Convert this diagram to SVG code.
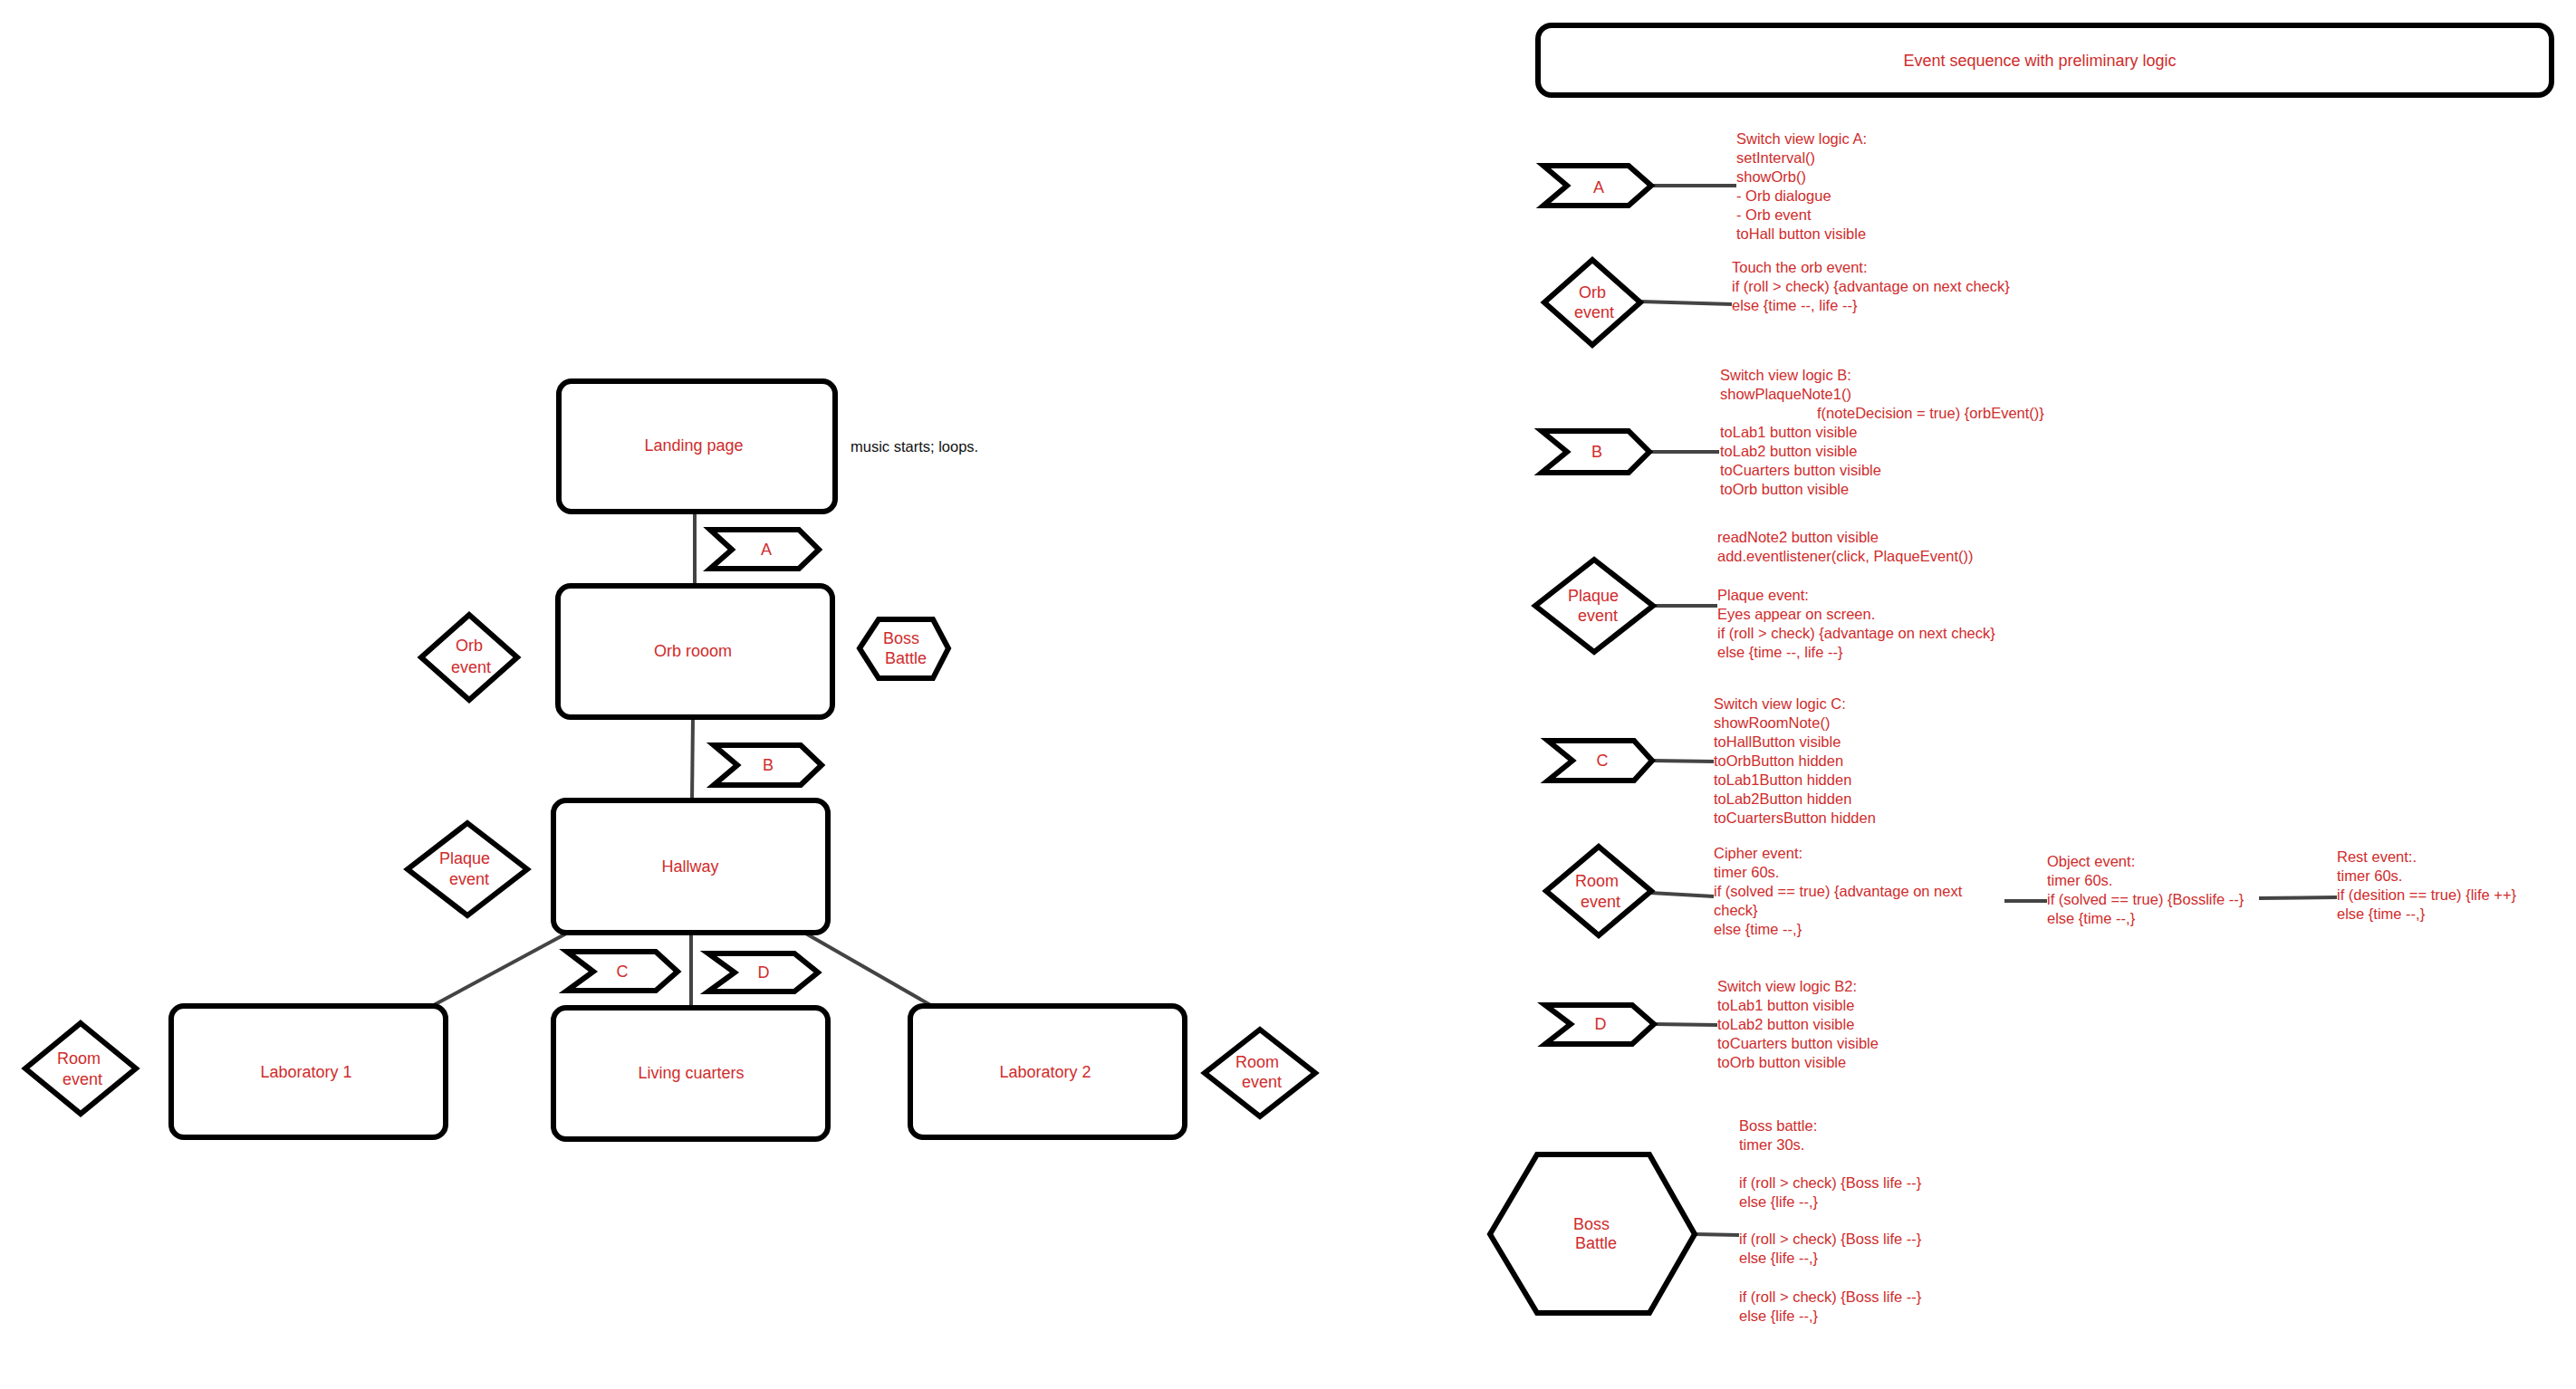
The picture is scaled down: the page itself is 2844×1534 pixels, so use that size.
<svg xmlns="http://www.w3.org/2000/svg" width="2844" height="1534" viewBox="0 0 2844 1534">
  <style>
    .shape { fill: #ffffff; stroke: #000000; stroke-width: 6; stroke-linejoin: miter; }
    .box { fill: #ffffff; stroke: #000000; stroke-width: 6; }
    .link { fill: none; stroke: #444444; stroke-width: 4; }
    .lbl { font-family: "Liberation Sans", Arial, sans-serif; font-size: 18px; fill: #d02c2c; text-anchor: middle; }
    .note { font-family: "Liberation Sans", Arial, sans-serif; font-size: 16.5px; fill: #d02c2c; }
    .plain { font-family: "Liberation Sans", Arial, sans-serif; font-size: 16.5px; fill: #111111; }
  </style>
  <rect width="2844" height="1534" fill="#ffffff"/>

  <!-- connectors -->
  <g id="connectors">
    <line class="link" x1="767" y1="565" x2="767" y2="647"/>
    <line class="link" x1="765" y1="792" x2="764" y2="884"/>
    <line class="link" x1="627" y1="1030" x2="477" y2="1111"/>
    <line class="link" x1="763" y1="1030" x2="763" y2="1113"/>
    <line class="link" x1="888" y1="1030" x2="1029" y2="1111"/>
    <line class="link" x1="1823" y1="205" x2="1917" y2="205"/>
    <line class="link" x1="1811" y1="333" x2="1912" y2="336"/>
    <line class="link" x1="1821" y1="499" x2="1898" y2="499"/>
    <line class="link" x1="1826" y1="669" x2="1896" y2="669"/>
    <line class="link" x1="1824" y1="840" x2="1892" y2="841"/>
    <line class="link" x1="1822" y1="986" x2="1892" y2="990"/>
    <line class="link" x1="2213" y1="995" x2="2260" y2="995"/>
    <line class="link" x1="2494" y1="992" x2="2580" y2="991"/>
    <line class="link" x1="1826" y1="1131" x2="1896" y2="1132"/>
    <line class="link" x1="1871" y1="1363" x2="1920" y2="1364"/>
  </g>

  <!-- room flow -->
  <g id="landing-page">
    <rect class="box" x="617" y="421" width="305" height="144" rx="14"/>
    <text class="lbl" x="766" y="498">Landing page</text>
  </g>
  <g id="music-note">
    <text class="plain" x="939" y="499">music starts; loops.</text>
  </g>
  <g id="switch-a">
    <polygon class="shape" points="784,585 882,585 904,607 882,628 784,628 808,607"/>
    <text class="lbl" x="846" y="613">A</text>
  </g>
  <g id="orb-room">
    <rect class="box" x="616" y="647" width="303" height="145" rx="14"/>
    <text class="lbl" x="765" y="725">Orb rooom</text>
  </g>
  <g id="orb-event">
    <polygon class="shape" points="518,679 571,726 518,773 465,726"/>
    <text class="lbl" x="518" y="719">Orb</text>
    <text class="lbl" x="520" y="743">event</text>
  </g>
  <g id="boss-battle">
    <polygon class="shape" points="949,716 970,684 1030,684 1047,716 1030,749 970,749"/>
    <text class="lbl" x="995" y="711">Boss</text>
    <text class="lbl" x="1000" y="733">Battle</text>
  </g>
  <g id="switch-b">
    <polygon class="shape" points="788,823 884,823 907,845 884,867 788,867 814,845"/>
    <text class="lbl" x="848" y="851">B</text>
  </g>
  <g id="hallway">
    <rect class="box" x="611" y="884" width="303" height="146" rx="14"/>
    <text class="lbl" x="762" y="963">Hallway</text>
  </g>
  <g id="plaque-event">
    <polygon class="shape" points="516,909 582,960 516,1011 450,960"/>
    <text class="lbl" x="513" y="954">Plaque</text>
    <text class="lbl" x="518" y="977">event</text>
  </g>
  <g id="switch-c">
    <polygon class="shape" points="626,1051 724,1051 748,1073 724,1094 626,1094 655,1073"/>
    <text class="lbl" x="687" y="1079">C</text>
  </g>
  <g id="switch-d">
    <polygon class="shape" points="782,1053 877,1053 903,1074 877,1095 782,1095 811,1074"/>
    <text class="lbl" x="843" y="1080">D</text>
  </g>
  <g id="laboratory-1">
    <rect class="box" x="189" y="1111" width="303" height="145" rx="14"/>
    <text class="lbl" x="338" y="1190">Laboratory 1</text>
  </g>
  <g id="living-cuarters">
    <rect class="box" x="611" y="1113" width="303" height="145" rx="14"/>
    <text class="lbl" x="763" y="1191">Living cuarters</text>
  </g>
  <g id="laboratory-2">
    <rect class="box" x="1005" y="1111" width="303" height="145" rx="14"/>
    <text class="lbl" x="1154" y="1190">Laboratory 2</text>
  </g>
  <g id="room-event-left">
    <polygon class="shape" points="89,1130 150,1180 89,1230 28,1180"/>
    <text class="lbl" x="87" y="1175">Room</text>
    <text class="lbl" x="91" y="1198">event</text>
  </g>
  <g id="room-event-right">
    <polygon class="shape" points="1391,1137 1452,1185 1391,1233 1330,1185"/>
    <text class="lbl" x="1388" y="1179">Room</text>
    <text class="lbl" x="1393" y="1201">event</text>
  </g>

  <!-- event sequence column -->
  <g id="sequence-title">
    <rect class="box" x="1698" y="28" width="1119" height="77" rx="15"/>
    <text class="lbl" x="2252" y="73">Event sequence with preliminary logic</text>
  </g>

  <g id="seq-a">
    <polygon class="shape" points="1704,183 1798,183 1823,205 1798,227 1704,227 1730,205"/>
    <text class="lbl" x="1765" y="213">A</text>
  </g>
  <g id="seq-a-logic">
    <text class="note" x="1917" y="159">
      <tspan x="1917">Switch view logic A:</tspan>
      <tspan x="1917" dy="21">setInterval()</tspan>
      <tspan x="1917" dy="21">showOrb()</tspan>
      <tspan x="1917" dy="21">- Orb dialogue</tspan>
      <tspan x="1917" dy="21">- Orb event</tspan>
      <tspan x="1917" dy="21">toHall button visible</tspan>
    </text>
  </g>

  <g id="seq-orb-event">
    <polygon class="shape" points="1758,287 1811,334 1758,381 1705,334"/>
    <text class="lbl" x="1758" y="329">Orb</text>
    <text class="lbl" x="1760" y="351">event</text>
  </g>
  <g id="seq-orb-logic">
    <text class="note" x="1912" y="301">
      <tspan x="1912">Touch the orb event:</tspan>
      <tspan x="1912" dy="21">if (roll &gt; check) {advantage on next check}</tspan>
      <tspan x="1912" dy="21">else {time --, life --}</tspan>
    </text>
  </g>

  <g id="seq-b">
    <polygon class="shape" points="1702,476 1798,476 1821,499 1798,522 1702,522 1730,499"/>
    <text class="lbl" x="1763" y="505">B</text>
  </g>
  <g id="seq-b-logic">
    <text class="note" x="1899" y="420">
      <tspan x="1899">Switch view logic B:</tspan>
      <tspan x="1899" dy="21">showPlaqueNote1()</tspan>
      <tspan x="2006" dy="21">f(noteDecision = true) {orbEvent()}</tspan>
      <tspan x="1899" dy="21">toLab1 button visible</tspan>
      <tspan x="1899" dy="21">toLab2 button visible</tspan>
      <tspan x="1899" dy="21">toCuarters button visible</tspan>
      <tspan x="1899" dy="21">toOrb button visible</tspan>
    </text>
  </g>

  <g id="seq-plaque-event">
    <polygon class="shape" points="1760,618 1825,669 1760,720 1695,669"/>
    <text class="lbl" x="1759" y="664">Plaque</text>
    <text class="lbl" x="1764" y="686">event</text>
  </g>
  <g id="seq-plaque-logic">
    <text class="note" x="1896" y="599">
      <tspan x="1896">readNote2 button visible</tspan>
      <tspan x="1896" dy="21">add.eventlistener(click, PlaqueEvent())</tspan>
      <tspan x="1896" dy="43">Plaque event:</tspan>
      <tspan x="1896" dy="21">Eyes appear on screen.</tspan>
      <tspan x="1896" dy="21">if (roll &gt; check) {advantage on next check}</tspan>
      <tspan x="1896" dy="21">else {time --, life --}</tspan>
    </text>
  </g>

  <g id="seq-c">
    <polygon class="shape" points="1709,818 1804,818 1824,840 1804,862 1709,862 1736,840"/>
    <text class="lbl" x="1769" y="846">C</text>
  </g>
  <g id="seq-c-logic">
    <text class="note" x="1892" y="783">
      <tspan x="1892">Switch view logic C:</tspan>
      <tspan x="1892" dy="21">showRoomNote()</tspan>
      <tspan x="1892" dy="21">toHallButton visible</tspan>
      <tspan x="1892" dy="21">toOrbButton hidden</tspan>
      <tspan x="1892" dy="21">toLab1Button hidden</tspan>
      <tspan x="1892" dy="21">toLab2Button hidden</tspan>
      <tspan x="1892" dy="21">toCuartersButton hidden</tspan>
    </text>
  </g>

  <g id="seq-room-event">
    <polygon class="shape" points="1765,935 1823,984 1765,1033 1707,984"/>
    <text class="lbl" x="1763" y="979">Room</text>
    <text class="lbl" x="1767" y="1002">event</text>
  </g>
  <g id="seq-cipher-event">
    <text class="note" x="1892" y="948">
      <tspan x="1892">Cipher event:</tspan>
      <tspan x="1892" dy="21">timer 60s.</tspan>
      <tspan x="1892" dy="21">if (solved == true) {advantage on next</tspan>
      <tspan x="1892" dy="21">check}</tspan>
      <tspan x="1892" dy="21">else {time --,}</tspan>
    </text>
  </g>
  <g id="seq-object-event">
    <text class="note" x="2260" y="957">
      <tspan x="2260">Object event:</tspan>
      <tspan x="2260" dy="21">timer 60s.</tspan>
      <tspan x="2260" dy="21">if (solved == true) {Bosslife --}</tspan>
      <tspan x="2260" dy="21">else {time --,}</tspan>
    </text>
  </g>
  <g id="seq-rest-event">
    <text class="note" x="2580" y="952">
      <tspan x="2580">Rest event:.</tspan>
      <tspan x="2580" dy="21">timer 60s.</tspan>
      <tspan x="2580" dy="21">if (desition == true) {life ++}</tspan>
      <tspan x="2580" dy="21">else {time --,}</tspan>
    </text>
  </g>

  <g id="seq-d">
    <polygon class="shape" points="1706,1110 1802,1110 1826,1131 1802,1153 1706,1153 1734,1131"/>
    <text class="lbl" x="1767" y="1137">D</text>
  </g>
  <g id="seq-d-logic">
    <text class="note" x="1896" y="1095">
      <tspan x="1896">Switch view logic B2:</tspan>
      <tspan x="1896" dy="21">toLab1 button visible</tspan>
      <tspan x="1896" dy="21">toLab2 button visible</tspan>
      <tspan x="1896" dy="21">toCuarters button visible</tspan>
      <tspan x="1896" dy="21">toOrb button visible</tspan>
    </text>
  </g>

  <g id="seq-boss-battle">
    <polygon class="shape" points="1645,1363 1697,1275 1821,1275 1871,1363 1821,1450 1697,1450"/>
    <text class="lbl" x="1757" y="1358">Boss</text>
    <text class="lbl" x="1762" y="1379">Battle</text>
  </g>
  <g id="seq-boss-logic">
    <text class="note" x="1920" y="1249">
      <tspan x="1920">Boss battle:</tspan>
      <tspan x="1920" dy="21">timer 30s.</tspan>
      <tspan x="1920" dy="42">if (roll &gt; check) {Boss life --}</tspan>
      <tspan x="1920" dy="21">else {life --,}</tspan>
      <tspan x="1920" dy="41">if (roll &gt; check) {Boss life --}</tspan>
      <tspan x="1920" dy="21">else {life --,}</tspan>
      <tspan x="1920" dy="43">if (roll &gt; check) {Boss life --}</tspan>
      <tspan x="1920" dy="21">else {life --,}</tspan>
    </text>
  </g>
</svg>
